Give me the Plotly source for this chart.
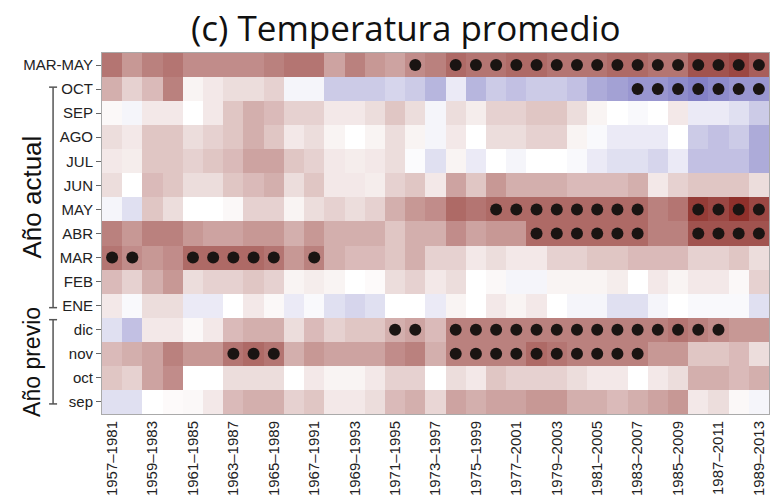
import plotly.graph_objects as go

periods = [f"{y}–{y+24}" for y in range(1957, 1990)]
row_labels = ["MAR-MAY", "OCT", "SEP", "AGO", "JUL", "JUN", "MAY", "ABR",
              "MAR", "FEB", "ENE", "dic", "nov", "oct", "sep"]

# correlation-like intensity (scale -10..10)
r_marmay = [6, 4.5, 5.5, 6, 5, 5, 5, 5, 5.5, 6, 6, 4, 5.5, 4.5, 4, 5, 5.5,
            6.5, 6, 6, 6.5, 6.5, 6, 6, 6, 6.5, 6.5, 6, 6, 7.5, 7.5, 8, 7]
r_oct = [3.5, 2, 3, 5.5, 0.5, 1, 1.5, 1.5, 2, -0.5, -0.5, -2.5, -2.5, -2.5, -2, -2.5, -3.5,
         -1, -3.5, -2.5, -3, -2.5, -2.5, -3, -4, -4.5, -5, -5, -5.5, -6, -5.5, -5, -5]
r_sep = [0.3, -0.5, 1, 1, 0, 1, 2.5, 3.5, 3, 2, 2, 1, 1, 1.5, 2.5, 1.5, -0.5,
         1.5, 0.8, 2, 2, 2.5, 2.5, 1.5, 0.5, 0, -0.3, 0, 1, -1, -1, -1.5, -2.5]
r_ago = [1.5, 1, 2.5, 2.5, 1.5, 2, 2.5, 3.5, 2.5, 1, 1.5, 0.5, 0, 0.5, 1.5, 0.5, -0.5,
         1, 0, 1.5, 1.5, 2, 2, 0.5, -0.3, -1, -1, -1, 0, -2.5, -3, -2.5, -4]
r_jul = [1, 0.8, 2.5, 2.5, 2, 2.5, 3, 4, 4, 2.5, 2, 1, 0.8, 1, 1.5, -0.2, -1.5,
         0.5, -1, 0, -0.5, 0, 0, -0.3, -1, -1.5, -1.5, -2, -1, -3, -3, -3, -4]
r_jun = [1.5, 0, 3, 2.5, 1.5, 1.5, 2.5, 3, 3.5, 1.5, 2.5, 1, 1, 0.8, 2, 2.5, 1,
         4, 2.5, 4.5, 3.5, 3.5, 3.5, 3, 3, 3, 3.5, 1, 2, 2.5, 2.5, 2.5, 1.5]
r_may = [-0.5, -1.5, 2.5, 1.5, 0, 0, 0.3, 2, 2, 0.5, 1.5, 2, 1.5, 2, 3.5, 4.5, 5,
         6.5, 6, 6.5, 6.5, 6.5, 6.5, 6.5, 6.5, 6.5, 6.5, 5.5, 6, 8.5, 8, 9, 8]
r_abr = [5.5, 4.5, 5.5, 5.5, 4.5, 4, 4, 4.5, 4.5, 3.5, 4.5, 3.5, 3.5, 3.5, 2.5, 3.5, 3.5,
         5, 4, 4.5, 4.5, 6.5, 6.5, 6.5, 6.5, 6.5, 6.5, 5.5, 5.5, 7.5, 7.5, 7.5, 7.5]
r_mar = [6, 5, 4.5, 5, 6.5, 6.5, 6.5, 6.5, 6, 4.5, 5.5, 3.5, 3, 3, 2.5, 3.5, 2,
         2, 1, 1.5, 1, 1, 2, 2, 2.5, 2.5, 3, 3, 3, 2, 2, 2.5, 1.5]
r_feb = [3, 2, 3.5, 4.5, 1.5, 2, 2, 2.5, 2, 0.5, 0.8, 0.5, 0, 0.2, 1.5, 2, 1,
         1.5, 0, 0.3, -0.5, -0.5, 0.5, 0.5, 0.5, 0.8, 0, 1, 0.5, 1, 1, 0.3, 2]
r_ene = [1, -0.3, 1.5, 1.5, -1, -1, 0, 1, 0.3, -1, -0.3, -1.5, -2, -1.5, 0, 0, -1,
         0.5, 0, 1, 0.5, 1, 0, -0.5, -0.5, -1.5, -1.5, -0.5, 0, -0.3, -0.3, -0.3, -1.5]
r_dic = [-1.5, -3, 1, 1, 0.3, 1, 3, 3.5, 3.5, 1.5, 3, 2, 2.5, 2.5, 3.5, 4, 3,
         5.5, 5.5, 5.5, 5.5, 5.5, 5.5, 5.5, 5.5, 5.5, 5.5, 5.5, 6, 5.5, 5, 4.5, 4.5]
r_nov = [3, 3.5, 4, 5.5, 4.5, 4.5, 6, 6.5, 6, 3.5, 4.5, 4, 4, 4, 5, 5.5, 3.5,
         5.5, 5.5, 5.5, 5.5, 6.5, 6, 5.5, 5.5, 5.5, 5.5, 4.5, 4.5, 2.5, 2.5, 3, 1.5]
r_oct_prev = [2.5, 2, 4, 5, 0, 0, 1.5, 1.5, 1.5, 0, 1, 0.5, 0.5, 1, 2, 2, 0,
              1.5, 1, 2.5, 2, 2, 2, 1.5, 1, 1, 0, 1, 1.5, 3.5, 3.5, 3, 3.5]
r_sep_prev = [-1.5, -1.5, 0, 0.2, 0.3, 1, 3, 3.5, 3.5, 2, 2.5, 1, 1, 1.5, 3, 3.5, 1.8,
              4, 3.5, 4, 4, 4.5, 4.5, 3.5, 3.5, 3, 3.5, 4, 4.5, 1, 1.5, 0.3, -0.5]

z_rows = [r_marmay, r_oct, r_sep, r_ago, r_jul, r_jun, r_may, r_abr,
          r_mar, r_feb, r_ene, r_dic, r_nov, r_oct_prev, r_sep_prev]

# significant cells (column indices per row)
sig_marmay = [15, 17, 18, 19, 20, 21, 22, 23, 24, 25, 26, 27, 28, 29, 30, 31, 32]
sig_oct = [26, 27, 28, 29, 30, 31, 32]
sig_may = [19, 20, 21, 22, 23, 24, 25, 26, 29, 30, 31, 32]
sig_abr = [21, 22, 23, 24, 25, 26, 29, 30, 31, 32]
sig_mar = [0, 1, 4, 5, 6, 7, 8, 10]
sig_dic = [14, 15, 17, 18, 19, 20, 21, 22, 23, 24, 25, 26, 27, 28, 29, 30]
sig_nov = [6, 7, 8, 17, 18, 19, 20, 21, 22, 23, 24, 25, 26]
sig_rows = {0: sig_marmay, 1: sig_oct, 6: sig_may, 7: sig_abr, 8: sig_mar,
            11: sig_dic, 12: sig_nov}

xs = list(range(len(periods)))
ys = list(range(len(row_labels)))

colorscale = [
    [0.0, "rgb(50,45,160)"],
    [0.5, "rgb(255,255,255)"],
    [1.0, "rgb(130,25,20)"],
]

fig = go.Figure()
fig.add_trace(go.Heatmap(
    z=z_rows, x=xs, y=ys, zmin=-10, zmax=10, colorscale=colorscale,
    showscale=False, hoverinfo="skip"))

dx, dy = [], []
for r, cols in sig_rows.items():
    for c in cols:
        dx.append(c)
        dy.append(r)
fig.add_trace(go.Scatter(
    x=dx, y=dy, mode="markers",
    marker=dict(color="#1a1412", size=12, line=dict(width=0)),
    hoverinfo="skip", showlegend=False))

W, H = 774, 500
L, R, T, B = 102, 4, 53, 77
pw, ph = W - L - R, H - T - B

def px(x):
    return (x - L) / pw

def py(y):
    return 1 - (y - T) / ph

fig.update_layout(
    width=W, height=H,
    margin=dict(l=L, r=R, t=T, b=B),
    paper_bgcolor="white", plot_bgcolor="white",
    showlegend=False,
    font=dict(family="Liberation Sans Narrow, Arial Narrow, Liberation Sans, sans-serif",
              color="#222"),
)
fig.update_xaxes(
    range=[-0.5, 32.5], tickmode="array",
    tickvals=xs[::2], ticktext=periods[::2], tickangle=-90,
    tickfont=dict(size=15), ticks="", showgrid=False, zeroline=False,
    showline=True, linecolor="#aaa", linewidth=1, mirror=True)
fig.update_yaxes(
    range=[14.5, -0.5], tickmode="array", tickvals=ys, ticktext=row_labels,
    tickfont=dict(size=15), ticks="outside", ticklen=5, tickcolor="#666",
    showgrid=False, zeroline=False,
    showline=True, linecolor="#aaa", linewidth=1, mirror=True)

# title
fig.add_annotation(text="(c) Temperatura promedio", xref="paper", yref="paper",
                   x=px(406), y=py(27), showarrow=False, xanchor="center", yanchor="middle",
                   font=dict(size=35, family="Open Sans, Noto Sans, sans-serif", color="#111"))

# group brackets
groups = [("Año actual", 1, 10, 26), ("Año previo", 11, 14, 23)]
row_h = ph / 15.0
for name, r0, r1, fs in groups:
    if r0 == 11:
        y0 = T + r0 * row_h + 2
    else:
        y0 = T + (r0 + 0.5) * row_h - 2
    y1 = T + (r1 + 0.5) * row_h + 2
    xb = 53
    fig.add_shape(type="line", xref="paper", yref="paper",
                  x0=px(xb), x1=px(xb), y0=py(y0), y1=py(y1),
                  line=dict(color="#555", width=1.5))
    for yy in (y0, y1):
        fig.add_shape(type="line", xref="paper", yref="paper",
                      x0=px(xb - 4), x1=px(xb + 4), y0=py(yy), y1=py(yy),
                      line=dict(color="#555", width=1.5))
    fig.add_annotation(text=name, xref="paper", yref="paper",
                       x=px(32), y=py((y0 + y1) / 2), showarrow=False, textangle=-90,
                       xanchor="center", yanchor="middle",
                       font=dict(size=fs, color="#111"))

fig.write_html("out.html")
